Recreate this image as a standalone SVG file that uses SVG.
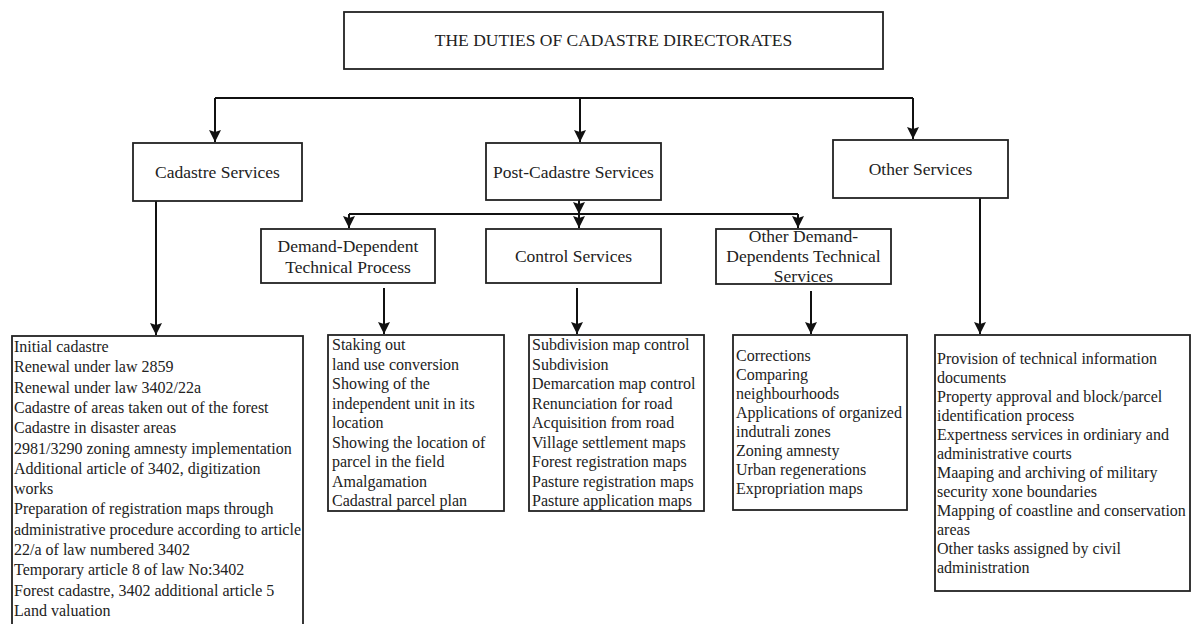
<svg xmlns="http://www.w3.org/2000/svg" width="1192" height="624" viewBox="0 0 1192 624">
<defs>
<marker id="arr" markerUnits="userSpaceOnUse" markerWidth="14" markerHeight="14" refX="12" refY="6" orient="auto">
<path d="M0,0 L12,6 L0,12 L2,6 z" fill="#111"/>
</marker>
<style>
.box{fill:#fff;stroke:#222;stroke-width:1.8}
.hd{font-family:"Liberation Serif","Times New Roman",serif;font-size:17.5px;fill:#222;text-anchor:middle}
.ls{font-family:"Liberation Serif","Times New Roman",serif;font-size:16px;fill:#222}
.cn{fill:none;stroke:#111;stroke-width:2}
</style>
</defs>
<rect width="1192" height="624" fill="#fff"/>
<g id="connectors">
<path class="cn" d="M215,98 H913"/>
<path class="cn" d="M215,98 V142" marker-end="url(#arr)"/>
<path class="cn" d="M580,98 V142" marker-end="url(#arr)"/>
<path class="cn" d="M913,98 V139" marker-end="url(#arr)"/>
<path class="cn" d="M156,201 V335" marker-end="url(#arr)"/>
<path class="cn" d="M579,200 V214" marker-end="url(#arr)"/>
<path class="cn" d="M349,214 H798"/>
<path class="cn" d="M349,214 V228" marker-end="url(#arr)"/>
<path class="cn" d="M579,214 V228" marker-end="url(#arr)"/>
<path class="cn" d="M798,214 V228" marker-end="url(#arr)"/>
<path class="cn" d="M384,288 V334" marker-end="url(#arr)"/>
<path class="cn" d="M577,288 V334" marker-end="url(#arr)"/>
<path class="cn" d="M811,291 V334" marker-end="url(#arr)"/>
<path class="cn" d="M980,198 V334" marker-end="url(#arr)"/>
</g>
<g id="title">
<rect class="box" x="344" y="12" width="539" height="57"/>
<text class="hd" x="613.5" y="46">THE DUTIES OF CADASTRE DIRECTORATES</text>
</g>
<g id="cadastre-services">
<rect class="box" x="133" y="143" width="169" height="58"/>
<text class="hd" x="217.5" y="178">Cadastre Services</text>
</g>
<g id="post-cadastre-services">
<rect class="box" x="486" y="143" width="175" height="57"/>
<text class="hd" x="573.5" y="178">Post-Cadastre Services</text>
</g>
<g id="other-services">
<rect class="box" x="833" y="140" width="175" height="58"/>
<text class="hd" x="920.5" y="175">Other Services</text>
</g>
<g id="demand-dependent">
<rect class="box" x="261" y="229" width="174" height="54"/>
<text class="hd" x="348" y="252">Demand-Dependent</text>
<text class="hd" x="348" y="273">Technical Process</text>
</g>
<g id="control-services">
<rect class="box" x="486" y="229" width="175" height="54"/>
<text class="hd" x="573.5" y="262">Control Services</text>
</g>
<g id="other-demand-dependents">
<rect class="box" x="716" y="229" width="175" height="55"/>
<text class="hd" x="803.5" y="242">Other Demand-</text>
<text class="hd" x="803.5" y="262">Dependents Technical</text>
<text class="hd" x="803.5" y="282">Services</text>
</g>
<g id="cadastre-list">
<rect class="box" x="12" y="336" width="291" height="310"/>
<text class="ls" x="14" y="352">
<tspan x="14" dy="0">Initial cadastre</tspan>
<tspan x="14" dy="20.3">Renewal under law 2859</tspan>
<tspan x="14" dy="20.3">Renewal under law 3402/22a</tspan>
<tspan x="14" dy="20.3">Cadastre of areas taken out of the forest</tspan>
<tspan x="14" dy="20.3">Cadastre in disaster areas</tspan>
<tspan x="14" dy="20.3">2981/3290 zoning amnesty implementation</tspan>
<tspan x="14" dy="20.3">Additional article of 3402, digitization</tspan>
<tspan x="14" dy="20.3">works</tspan>
<tspan x="14" dy="20.3">Preparation of registration maps through</tspan>
<tspan x="14" dy="20.3">administrative procedure according to article</tspan>
<tspan x="14" dy="20.3">22/a of law numbered 3402</tspan>
<tspan x="14" dy="20.3">Temporary article 8 of law No:3402</tspan>
<tspan x="14" dy="20.3">Forest cadastre, 3402 additional article 5</tspan>
<tspan x="14" dy="20.3">Land valuation</tspan>
</text>
</g>
<g id="demand-dependent-list">
<rect class="box" x="328" y="335" width="176" height="176"/>
<text class="ls" x="332" y="350">
<tspan x="332" dy="0">Staking out</tspan>
<tspan x="332" dy="19.5">land use conversion</tspan>
<tspan x="332" dy="19.5">Showing of the</tspan>
<tspan x="332" dy="19.5">independent unit in its</tspan>
<tspan x="332" dy="19.5">location</tspan>
<tspan x="332" dy="19.5">Showing the location of</tspan>
<tspan x="332" dy="19.5">parcel in the field</tspan>
<tspan x="332" dy="19.5">Amalgamation</tspan>
<tspan x="332" dy="19.5">Cadastral parcel plan</tspan>
</text>
</g>
<g id="control-list">
<rect class="box" x="529" y="335" width="175" height="176"/>
<text class="ls" x="532" y="350">
<tspan x="532" dy="0">Subdivision map control</tspan>
<tspan x="532" dy="19.5">Subdivision</tspan>
<tspan x="532" dy="19.5">Demarcation map control</tspan>
<tspan x="532" dy="19.5">Renunciation for road</tspan>
<tspan x="532" dy="19.5">Acquisition from road</tspan>
<tspan x="532" dy="19.5">Village settlement maps</tspan>
<tspan x="532" dy="19.5">Forest registration maps</tspan>
<tspan x="532" dy="19.5">Pasture registration maps</tspan>
<tspan x="532" dy="19.5">Pasture application maps</tspan>
</text>
</g>
<g id="other-demand-list">
<rect class="box" x="733" y="335" width="174" height="175"/>
<text class="ls" x="736" y="361">
<tspan x="736" dy="0">Corrections</tspan>
<tspan x="736" dy="19">Comparing</tspan>
<tspan x="736" dy="19">neighbourhoods</tspan>
<tspan x="736" dy="19">Applications of organized</tspan>
<tspan x="736" dy="19">indutrali zones</tspan>
<tspan x="736" dy="19">Zoning amnesty</tspan>
<tspan x="736" dy="19">Urban regenerations</tspan>
<tspan x="736" dy="19">Expropriation maps</tspan>
</text>
</g>
<g id="other-services-list">
<rect class="box" x="935" y="335" width="255" height="256"/>
<text class="ls" x="937" y="364">
<tspan x="937" dy="0">Provision of technical information</tspan>
<tspan x="937" dy="19">documents</tspan>
<tspan x="937" dy="19">Property approval and block/parcel</tspan>
<tspan x="937" dy="19">identification process</tspan>
<tspan x="937" dy="19">Expertness services in ordiniary and</tspan>
<tspan x="937" dy="19">administrative courts</tspan>
<tspan x="937" dy="19">Maaping and archiving of military</tspan>
<tspan x="937" dy="19">security xone boundaries</tspan>
<tspan x="937" dy="19">Mapping of coastline and conservation</tspan>
<tspan x="937" dy="19">areas</tspan>
<tspan x="937" dy="19">Other tasks assigned by civil</tspan>
<tspan x="937" dy="19">administration</tspan>
</text>
</g>
</svg>
